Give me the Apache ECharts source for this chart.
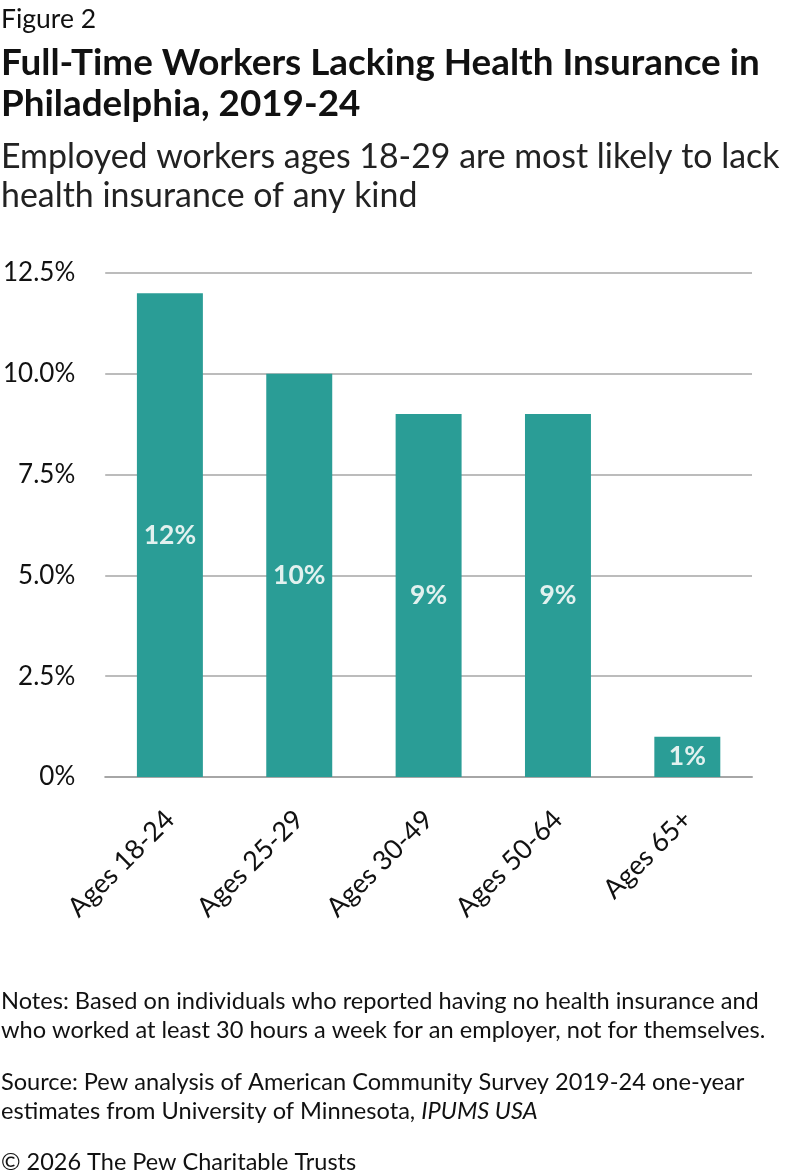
<!DOCTYPE html>
<html><head><meta charset="utf-8">
<script src="https://cdn.jsdelivr.net/npm/echarts@6/dist/echarts.min.js"></script>
<style>html,body{margin:0;padding:0;background:#fff}#c{width:792px;height:1176px}</style>
</head><body><div id="c"></div>
<script>
const categories = ['Ages 18-24','Ages 25-29','Ages 30-49','Ages 50-64','Ages 65+'];
const values = [12, 10, 9, 9, 1];
const yTicks = [0, 2.5, 5, 7.5, 10, 12.5];

const F = 'Lato, "Noto Sans", sans-serif';
const chart = echarts.init(document.getElementById('c'), null, {renderer:'canvas'});
const txt = (x, y, text, size, extra) => ({type:'text', left:x, top:y, style:Object.assign({text, fontFamily:F, fontSize:size, fill:'#111', verticalAlign:'top'}, extra||{})});
chart.setOption({
  backgroundColor:'#fff',
  animation:false,
  grid:{left:104, right:40, top:273, bottom:399, containLabel:false},
  xAxis:{type:'category', data:categories,
    axisLine:{lineStyle:{color:'#a6a6a6', width:2}}, axisTick:{show:false},
    axisLabel:{rotate:45, fontFamily:F, fontSize:27, color:'#111', margin:38, interval:0}},
  yAxis:{type:'value', min:0, max:12.5, interval:2.5,
    splitLine:{lineStyle:{color:'#a6a6a6', width:1.5}},
    axisLine:{show:false}, axisTick:{show:false},
    axisLabel:{fontFamily:F, fontSize:26, color:'#111', margin:30,
      formatter:v => v===0 ? '0%' : v.toFixed(1)+'%'}},
  series:[{type:'bar', data:values, barWidth:'51%', itemStyle:{color:'#2a9d96'},
    label:{show:true, position:'inside', formatter:p=>p.value+'%', fontFamily:F, fontSize:26.5, fontWeight:'bold', color:'#e2f1ef'}}],
  graphic:[
    txt(1, 4, 'Figure 2', 26.5, {lineHeight:30}),
    txt(1, 43, 'Full-Time Workers Lacking Health Insurance in\nPhiladelphia, 2019-24', 36.8, {fontWeight:'bold', lineHeight:41}),
    txt(1, 138, 'Employed workers ages 18-29 are most likely to lack\nhealth insurance of any kind', 33.9, {lineHeight:39, fill:'#222'}),
    txt(1, 987, 'Notes: Based on individuals who reported having no health insurance and\nwho worked at least 30 hours a week for an employer, not for themselves.', 23.6, {lineHeight:29}),
    {type:'text', left:1, top:1068, style:{text:'Source: Pew analysis of American Community Survey 2019-24 one-year\nestimates from University of Minnesota, {i|IPUMS USA}', fontFamily:F, fontSize:23.6, lineHeight:29, fill:'#111', verticalAlign:'top',
      rich:{i:{fontStyle:'italic', fontFamily:F, fontSize:23.6, fill:'#111', lineHeight:29}}}},
    txt(1, 1147.5, '© 2026 The Pew Charitable Trusts', 23.5, {lineHeight:29})
  ]
});
</script></body></html>
